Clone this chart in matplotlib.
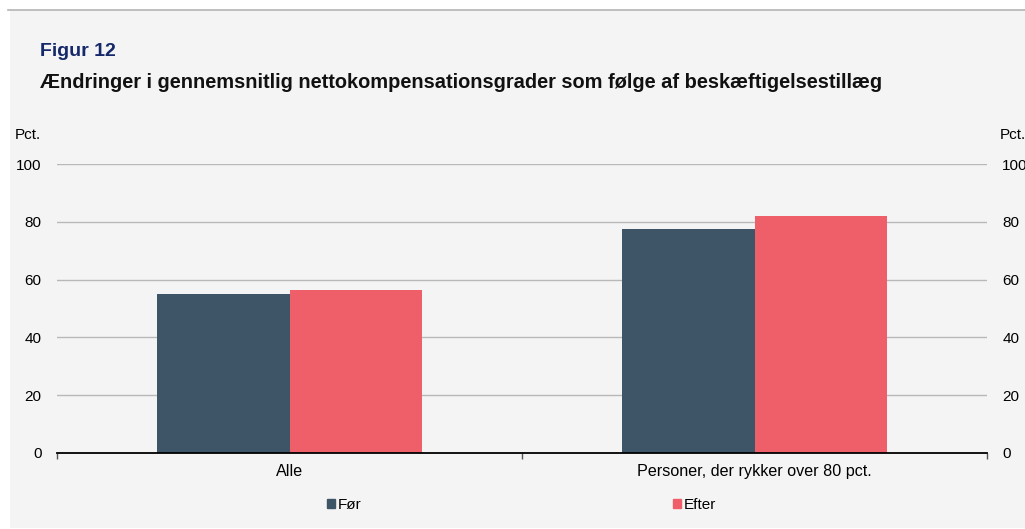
import matplotlib.pyplot as plt
import numpy as np
from matplotlib.patches import Rectangle
from matplotlib.lines import Line2D

plt.rcParams['font.family'] = ['Liberation Sans', 'DejaVu Sans']

# Data
categories = ["Alle", "Personer, der rykker over 80 pct."]
foer = [55.0, 77.4]
efter = [56.3, 81.9]
series_names = ["Før", "Efter"]

col_foer = "#3d5567"
col_efter = "#ef5f6a"
bg = "#f4f4f4"

fig = plt.figure(figsize=(10.25, 5.29), dpi=100, facecolor="white")

# light grey panel and top rule
fig.patches.append(Rectangle((10 / 1025, 0.002), 1, 1 - 10 / 529 - 0.002,
                             transform=fig.transFigure, facecolor=bg,
                             edgecolor="none", zorder=-10))
fig.lines.append(Line2D([8 / 1025, 1], [1 - 10 / 529] * 2, transform=fig.transFigure,
                        color="#b4b4b4", lw=1.2, zorder=-5))

ax = fig.add_axes([57 / 1025, 1 - 453 / 529, 930 / 1025, 289 / 529])
ax.set_facecolor("none")

x = np.arange(len(categories))
w = 0.286
ax.bar(x - w / 2, foer, w, color=col_foer, zorder=3)
ax.bar(x + w / 2, efter, w, color=col_efter, zorder=3)

ax.set_xlim(-0.5, 1.5)
ax.set_ylim(0, 100)
ax.set_yticks(range(0, 101, 20))
ax.grid(axis="y", color="#b8b8b8", lw=1, zorder=0)

for s in ["top", "right", "left"]:
    ax.spines[s].set_visible(False)
ax.spines["bottom"].set_color("black")
ax.spines["bottom"].set_linewidth(1.3)
ax.spines["bottom"].set_zorder(4)

ax.set_xticks([-0.5, 0.5, 1.5])
ax.set_xticklabels([])
ax.tick_params(axis="x", length=4, width=1, color="#555555")
ax.set_xticks(x, minor=True)
ax.set_xticklabels(categories, minor=True, fontsize=11.6)
ax.tick_params(axis="x", which="minor", length=0, pad=8)

ax.tick_params(axis="y", length=0, labelsize=11, pad=11)

ax2 = ax.twinx()
ax2.set_ylim(0, 100)
ax2.set_yticks(range(0, 101, 20))
for s in ax2.spines.values():
    s.set_visible(False)
ax2.tick_params(axis="y", length=0, labelsize=11, pad=11)

fig.text(15 / 1025, 1 - 135 / 529, "Pct.", fontsize=11, va="center", ha="left")
fig.text(1000 / 1025, 1 - 135 / 529, "Pct.", fontsize=11, va="center", ha="left")

fig.text(40 / 1025, 1 - 52 / 529, "Figur 12", fontsize=14, fontweight="bold",
         color="#14286a", va="center", ha="left")
fig.text(40 / 1025, 1 - 82 / 529,
         "Ændringer i gennemsnitlig nettokompensationsgrader som følge af beskæftigelsestillæg",
         fontsize=14.4, fontweight="bold", color="#111111", va="center", ha="left")

# legend
handles = [Rectangle((0, 0), 1, 1, color=col_foer), Rectangle((0, 0), 1, 1, color=col_efter)]
fig.legend(handles, series_names, loc="center", bbox_to_anchor=(0.5 + 9 / 1025, 1 - 505 / 529),
           ncol=2, frameon=False, fontsize=11, handlelength=0.5, handleheight=0.5,
           handletextpad=0.2, columnspacing=20.4)

fig.savefig("out.png", dpi=100, facecolor=fig.get_facecolor())
